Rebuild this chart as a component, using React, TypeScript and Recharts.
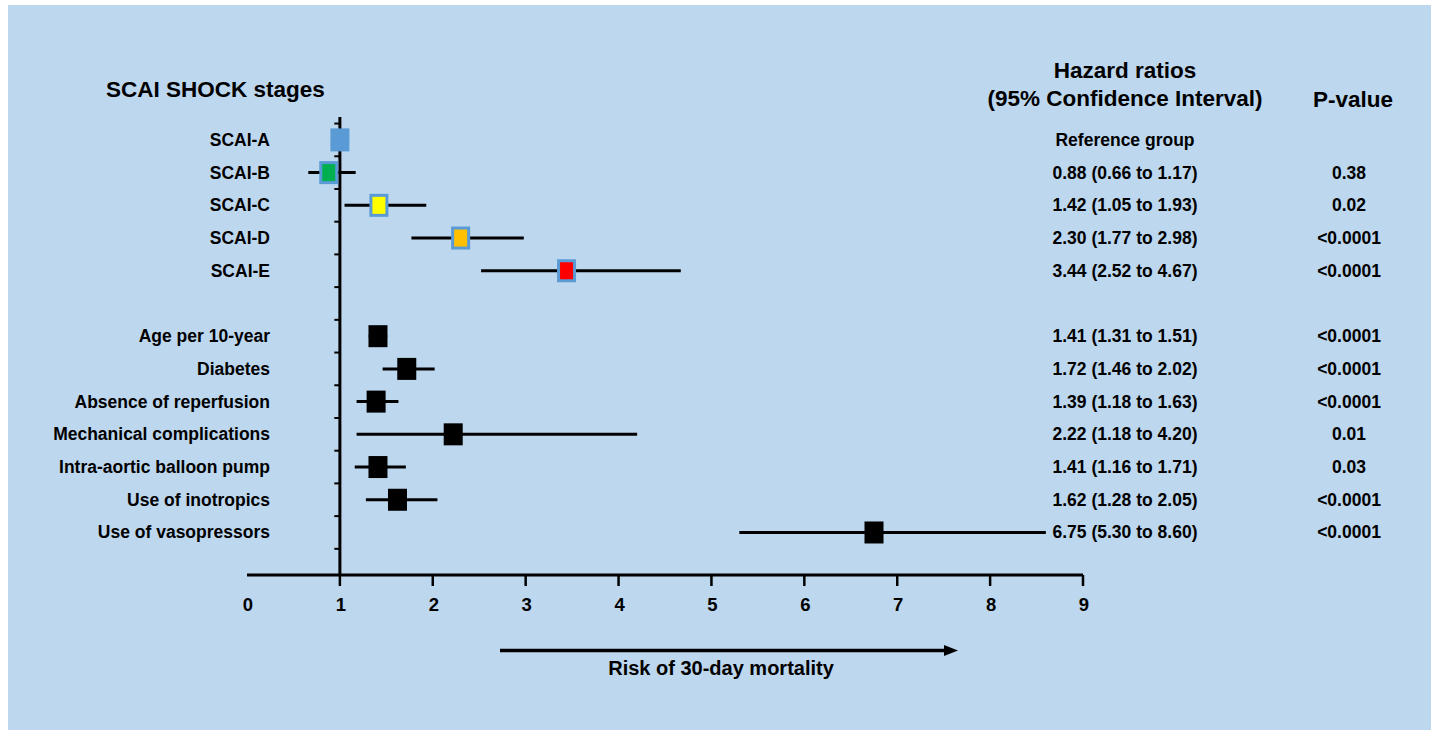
import React from 'react';
import { ScatterChart, Scatter, XAxis, YAxis, ErrorBar, ReferenceLine } from 'recharts';

const FONT = '"Liberation Sans", Arial, Helvetica, sans-serif';

// ---- data ----
const labels = [
  'SCAI-A', 'SCAI-B', 'SCAI-C', 'SCAI-D', 'SCAI-E',
  'Age per 10-year', 'Diabetes', 'Absence of reperfusion', 'Mechanical complications',
  'Intra-aortic balloon pump', 'Use of inotropics', 'Use of vasopressors',
];
const rows = [0, 1, 2, 3, 4, 6, 7, 8, 9, 10, 11, 12];
const hazardRatios = [1, 0.88, 1.42, 2.3, 3.44, 1.41, 1.72, 1.39, 2.22, 1.41, 1.62, 6.75];
const lowerCI = [1, 0.66, 1.05, 1.77, 2.52, 1.31, 1.46, 1.18, 1.18, 1.16, 1.28, 5.3];
const upperCI = [1, 1.17, 1.93, 2.98, 4.67, 1.51, 2.02, 1.63, 4.2, 1.71, 2.05, 8.6];
const hrTexts = [
  'Reference group', '0.88 (0.66 to 1.17)', '1.42 (1.05 to 1.93)', '2.30 (1.77 to 2.98)', '3.44 (2.52 to 4.67)',
  '1.41 (1.31 to 1.51)', '1.72 (1.46 to 2.02)', '1.39 (1.18 to 1.63)', '2.22 (1.18 to 4.20)',
  '1.41 (1.16 to 1.71)', '1.62 (1.28 to 2.05)', '6.75 (5.30 to 8.60)',
];
const pValues = ['', '0.38', '0.02', '<0.0001', '<0.0001', '<0.0001', '<0.0001', '<0.0001', '0.01', '0.03', '<0.0001', '<0.0001'];
const markerFills = ['#5b9bd5', '#00b050', '#ffff00', '#ffc000', '#ff0000', '#000000', '#000000', '#000000', '#000000', '#000000', '#000000', '#000000'];
const markerBorders = ['#5b9bd5', '#5b9bd5', '#5b9bd5', '#5b9bd5', '#5b9bd5', '', '', '', '', '', '', ''];
const xTicks = [0, 1, 2, 3, 4, 5, 6, 7, 8, 9];
const rowBoundaryTicks = [-0.5, 0.5, 1.5, 2.5, 3.5, 4.5, 5.5, 6.5, 7.5, 8.5, 9.5, 10.5, 11.5, 12.5];

const data = labels.map((label, i) => ({
  label,
  row: rows[i],
  hr: hazardRatios[i],
  ci: [hazardRatios[i] - lowerCI[i], upperCI[i] - hazardRatios[i]],
  fill: markerFills[i],
  border: markerBorders[i],
}));

const textStyle = { fontFamily: FONT, fontWeight: 700, fill: '#000' } as const;

const Marker = (props: any) => {
  const { cx, cy, payload } = props;
  if (cx == null || cy == null) return null;
  if (payload.border) {
    return (
      <rect x={cx - 8} y={cy - 10} width={16} height={20} fill={payload.fill} stroke={payload.border} strokeWidth={3} />
    );
  }
  return <rect x={cx - 9.5} y={cy - 11} width={19} height={22} fill={payload.fill} />;
};

// Row tick: label on the left, HR (95% CI) and P-value columns on the right
const RowTick = (props: any) => {
  const { y, payload } = props;
  const idx = rows.indexOf(payload.value);
  if (idx < 0) return null;
  return (
    <g>
      <text x={262} y={y} dy={6} textAnchor="end" fontSize={17.5} {...textStyle}>
        {labels[idx]}
      </text>
      <text x={1117} y={y} dy={6} textAnchor="middle" fontSize={17.5} {...textStyle}>
        {hrTexts[idx]}
      </text>
      <text x={1341} y={y} dy={6} textAnchor="middle" fontSize={17.5} {...textStyle}>
        {pValues[idx]}
      </text>
    </g>
  );
};

const XTick = (props: any) => {
  const { x, y, payload } = props;
  return (
    <g>
      {payload.value !== 0 && (
        <line x1={x} x2={x} y1={y - 15} y2={y - 4} stroke="#000" strokeWidth={2.5} />
      )}
      <text x={x + 1} y={y + 21} textAnchor="middle" fontSize={18.5} {...textStyle}>
        {payload.value}
      </text>
    </g>
  );
};

const W = 1423;
const H = 725;

export default function App() {
  return (
    <div
      style={{
        position: 'absolute',
        left: 8,
        top: 5,
        width: W,
        height: H,
        background: '#bdd7ee',
      }}
    >
      <ScatterChart width={W} height={H} margin={{ top: 112, right: 348, bottom: 0, left: 0 }}>
        <XAxis
          type="number"
          dataKey="hr"
          domain={[0, 9]}
          ticks={xTicks}
          interval={0}
          height={155}
          tickSize={11}
          tickMargin={4}
          tickLine={false}
          axisLine={{ stroke: '#000', strokeWidth: 3 }}
          tick={<XTick />}
        />
        <YAxis
          yAxisId="left"
          type="number"
          dataKey="row"
          domain={[-0.7, 13.3]}
          reversed
          ticks={rows}
          interval={0}
          width={239}
          axisLine={false}
          tickLine={false}
          tick={<RowTick />}
        />
        <ReferenceLine yAxisId="left" x={1} stroke="#000" strokeWidth={3} />
        {rowBoundaryTicks.map((t) => (
          <ReferenceLine
            key={t}
            yAxisId="left"
            segment={[{ x: 0.94, y: t }, { x: 1, y: t }]}
            stroke="#000"
            strokeWidth={2}
          />
        ))}
        <Scatter
          yAxisId="left"
          data={data}
          dataKey="row"
          isAnimationActive={false}
          shape={<Marker />}
        >
          <ErrorBar dataKey="ci" direction="x" width={0} stroke="#000" strokeWidth={3} isAnimationActive={false} />
        </Scatter>
      </ScatterChart>
      <svg
        width={W}
        height={H}
        style={{ position: 'absolute', left: 0, top: 0, pointerEvents: 'none' }}
      >
        <text x={98} y={92} fontSize={22.5} {...textStyle}>SCAI SHOCK stages</text>
        <text x={1117} y={73} textAnchor="middle" fontSize={22.5} {...textStyle}>Hazard ratios</text>
        <text x={1117} y={101} textAnchor="middle" fontSize={22.5} {...textStyle}>(95% Confidence Interval)</text>
        <text x={1345} y={102} textAnchor="middle" fontSize={22.5} {...textStyle}>P-value</text>
        <line x1={492} y1={645.5} x2={938} y2={645.5} stroke="#000" strokeWidth={3.5} />
        <polygon points="950,645.5 936,640 936,651" fill="#000" />
        <text x={713} y={670} textAnchor="middle" fontSize={20} {...textStyle}>Risk of 30-day mortality</text>
      </svg>
    </div>
  );
}
